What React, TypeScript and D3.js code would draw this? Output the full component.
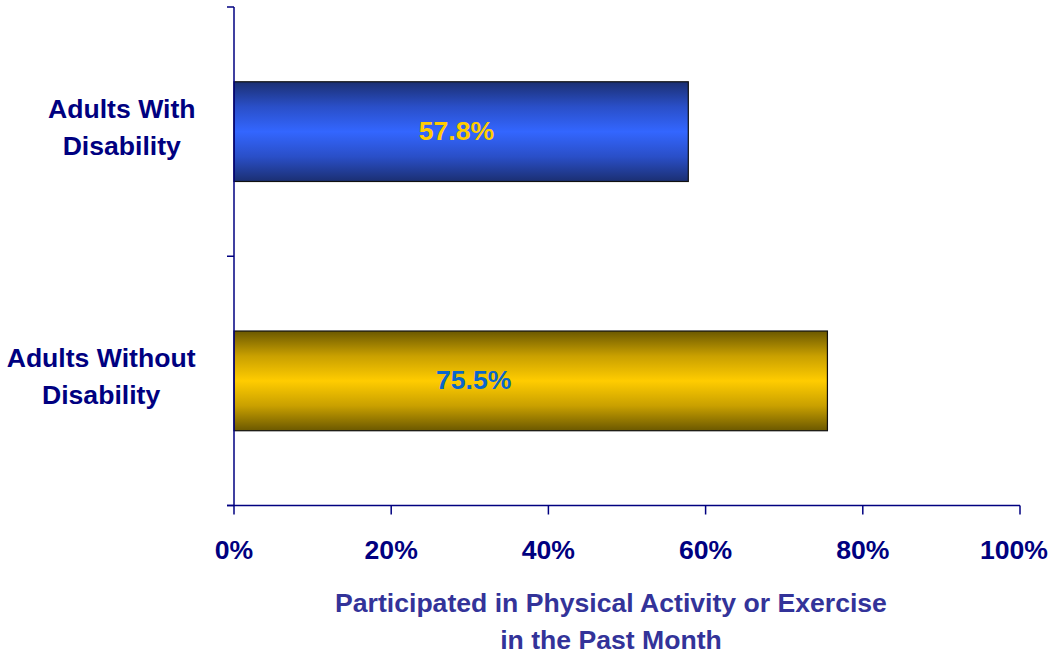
import { useRef, useEffect } from 'react';
import * as d3 from 'd3';

// Chart data
const categories: string[][] = [['Adults With', 'Disability'], ['Adults Without', 'Disability']];
const values: number[] = [57.8, 75.5];
const valueLabels: string[] = ['57.8%', '75.5%'];
const xTicks: number[] = [0, 20, 40, 60, 80, 100];
const titleLines: string[] = ['Participated in Physical Activity or Exercise', 'in the Past Month'];

export default function App() {
  const chartRef = useRef<SVGSVGElement | null>(null);

  useEffect(() => {
    if (!chartRef.current) return;

    const svgWidth = 1051;
    const svgHeight = 656;
    const navy = '#000080';
    const font = 'Arial, "Liberation Sans", sans-serif';
    const fontSize = '26.6px';

    const svg = d3.select(chartRef.current)
      .attr('width', svgWidth)
      .attr('height', svgHeight);
    svg.selectAll('*').remove();

    const left = 234;
    const right = 1020;
    const top = 7;
    const bottom = 505.5;

    const xScale = d3.scaleLinear().domain([0, 100]).range([left, right]);
    const yScale = d3.scaleBand<number>()
      .domain(d3.range(values.length))
      .range([top, bottom])
      .paddingInner(0.6)
      .paddingOuter(0.3);

    // Gradients
    const defs = svg.append('defs');
    const gradients = [
      { id: 'gBlue', dark: '#1b2f72', mid: '#2a4fc8', bright: '#3366ff' },
      { id: 'gGold', dark: '#6b5800', mid: '#c9a000', bright: '#ffcc00' },
    ];
    gradients.forEach((g) => {
      const lg = defs.append('linearGradient')
        .attr('id', g.id)
        .attr('x1', 0).attr('y1', 0).attr('x2', 0).attr('y2', 1);
      lg.append('stop').attr('offset', '0%').attr('stop-color', g.dark);
      lg.append('stop').attr('offset', '25%').attr('stop-color', g.mid);
      lg.append('stop').attr('offset', '50%').attr('stop-color', g.bright);
      lg.append('stop').attr('offset', '75%').attr('stop-color', g.mid);
      lg.append('stop').attr('offset', '100%').attr('stop-color', g.dark);
    });

    // Bars
    svg.selectAll('rect.bar')
      .data(values)
      .enter()
      .append('rect')
      .attr('class', 'bar')
      .attr('x', xScale(0))
      .attr('y', (_d, i) => yScale(i) || 0)
      .attr('width', (d) => xScale(d) - xScale(0))
      .attr('height', yScale.bandwidth())
      .attr('fill', (_d, i) => `url(#${gradients[i].id})`)
      .attr('stroke', '#111')
      .attr('stroke-width', 1.2);

    // Value labels
    const labelColors = ['#ffcc00', '#0a66cc'];
    const labelAt = [28.3, 30.5];
    svg.selectAll('text.val')
      .data(valueLabels)
      .enter()
      .append('text')
      .attr('class', 'val')
      .text((d) => d)
      .attr('x', (_d, i) => xScale(labelAt[i]))
      .attr('y', (_d, i) => (yScale(i) || 0) + yScale.bandwidth() / 2 + 8.5)
      .attr('text-anchor', 'middle')
      .attr('font-family', font)
      .attr('font-weight', 'bold')
      .attr('font-size', fontSize)
      .attr('fill', (_d, i) => labelColors[i]);

    // Axes lines
    const axis = svg.append('g')
      .attr('stroke', navy)
      .attr('stroke-width', 1.5)
      .attr('fill', 'none');
    axis.append('line')
      .attr('x1', left).attr('x2', left)
      .attr('y1', top).attr('y2', bottom);
    axis.append('line')
      .attr('x1', left - 7).attr('x2', right)
      .attr('y1', bottom).attr('y2', bottom);
    const yBounds = [top, top + yScale.step(), bottom];
    yBounds.forEach((yy) => {
      axis.append('line')
        .attr('x1', left - 7).attr('x2', left)
        .attr('y1', yy).attr('y2', yy);
    });
    xTicks.forEach((t) => {
      axis.append('line')
        .attr('x1', xScale(t)).attr('x2', xScale(t))
        .attr('y1', bottom).attr('y2', bottom + 9);
    });

    // X tick labels (last one pulled in to stay inside the frame)
    const xt = svg.selectAll('text.xt')
      .data(xTicks)
      .enter()
      .append('text')
      .attr('class', 'xt')
      .text((d) => `${d}%`)
      .attr('y', 559)
      .attr('text-anchor', 'middle')
      .attr('font-family', font)
      .attr('font-weight', 'bold')
      .attr('font-size', fontSize)
      .attr('fill', navy);
    xt.each(function (d) {
      const w = (this as SVGTextElement).getComputedTextLength();
      const cx = Math.min(xScale(d), svgWidth - 3 - w / 2);
      d3.select(this).attr('x', cx);
    });

    // Category labels: lines centred on each other, block right-aligned
    categories.forEach((lines, i) => {
      const cy = (yScale(i) || 0) + yScale.bandwidth() / 2;
      const g = svg.append('g');
      const texts = g.selectAll('text')
        .data(lines)
        .enter()
        .append('text')
        .text((d) => d)
        .attr('y', (_d, j) => cy - 14 + j * 37.5)
        .attr('text-anchor', 'middle')
        .attr('font-family', font)
        .attr('font-weight', 'bold')
        .attr('font-size', fontSize)
        .attr('fill', navy);
      let maxW = 0;
      texts.each(function () {
        maxW = Math.max(maxW, (this as SVGTextElement).getComputedTextLength());
      });
      texts.attr('x', 195.5 - maxW / 2);
    });

    // Axis title
    svg.selectAll('text.title')
      .data(titleLines)
      .enter()
      .append('text')
      .attr('class', 'title')
      .text((d) => d)
      .attr('x', 611)
      .attr('y', (_d, j) => 612 + j * 36.5)
      .attr('text-anchor', 'middle')
      .attr('font-family', font)
      .attr('font-weight', 'bold')
      .attr('font-size', fontSize)
      .attr('fill', '#333399');
  }, []);

  return (
    <div>
      <svg ref={chartRef} style={{ position: 'absolute', left: 0, top: 0 }}></svg>
    </div>
  );
}
